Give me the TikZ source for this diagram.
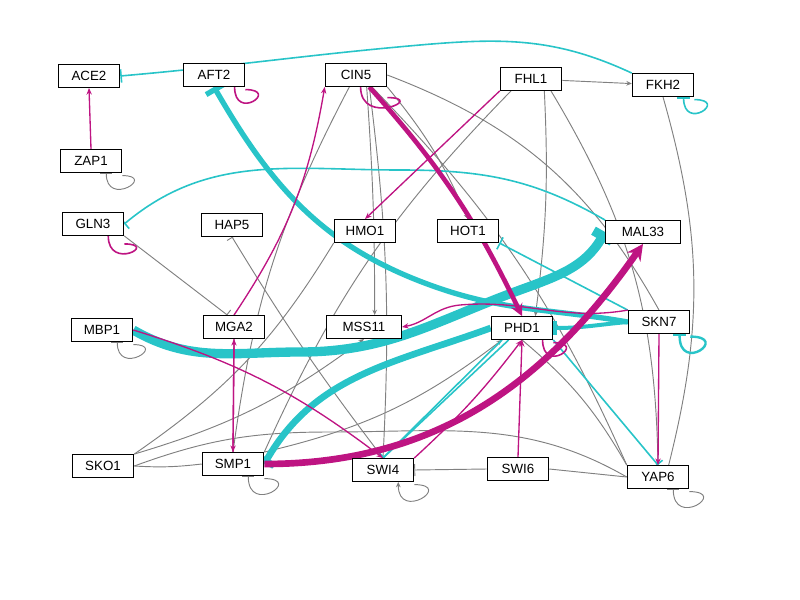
\documentclass[tikz,border=0pt]{standalone}
\usepackage{fontspec}
\setmainfont{Liberation Sans}
\usetikzlibrary{arrows.meta}
\definecolor{mag}{RGB}{190,20,130}
\definecolor{tl}{RGB}{40,196,200}
\definecolor{gy}{RGB}{128,128,128}
\begin{document}
\begin{tikzpicture}[x=0.75pt,y=-0.75pt,
 n/.style={draw,line width=0.9pt,fill=white,minimum width=46pt,minimum height=17pt,inner sep=1pt,font=\fontsize{10}{11}\selectfont},
 g/.style={draw=gy,line width=0.7pt},
 ga/.style={g,-{Stealth[length=4pt,width=3.5pt]}},
 gi/.style={g,-{Bar[width=9pt]}},
 m/.style={draw=mag,line width=1pt,-{Stealth[length=5pt,width=4pt]}},
 t/.style={draw=tl,line width=1.2pt,-{Bar[width=10pt]}},
 ml/.style={draw=mag,line width=1.2pt}]
\useasboundingbox (0,0) rectangle (800,600);
\node[n] (ACE2) at (89,76) {ACE2};
\node[n] (AFT2) at (214,75) {AFT2};
\node[n] (CIN5) at (356,75) {CIN5};
\node[n] (FHL1) at (531,79) {FHL1};
\node[n] (FKH2) at (663,85) {FKH2};
\node[n] (ZAP1) at (91,161) {ZAP1};
\node[n] (GLN3) at (93,224) {GLN3};
\node[n] (HAP5) at (232,225) {HAP5};
\node[n] (HMO1) at (365,231) {HMO1};
\node[n] (HOT1) at (468,231) {HOT1};
\node[n,minimum width=56pt] (MAL33) at (643,232) {MAL33};
\node[n] (MBP1) at (102,330) {MBP1};
\node[n] (MGA2) at (234,327) {MGA2};
\node[n,minimum width=56pt] (MSS11) at (364,327) {MSS11};
\node[n] (PHD1) at (522,328) {PHD1};
\node[n] (SKN7) at (659,322) {SKN7};
\node[n] (SKO1) at (103,466) {SKO1};
\node[n] (SMP1) at (233,464) {SMP1};
\node[n] (SWI4) at (383,470) {SWI4};
\node[n] (SWI6) at (518,469) {SWI6};
\node[n] (YAP6) at (658,477) {YAP6};
% grey edges
\draw[ga] (FHL1) -- (FKH2);
\draw[ga] (CIN5.south east) to[bend left=8] (HOT1.north);
\draw[ga] ([xshift=8]CIN5.south) to[bend left=2] ([xshift=8]MSS11.north);
\draw[g] ([xshift=-5]CIN5.south) to[bend right=10] (SMP1.north);
\draw[g] ([xshift=10]CIN5.south) to[bend left=5] (SWI4.north);
\draw[g] ([xshift=12]CIN5.south) to[bend left=10] (YAP6.north west);
\draw[g] (CIN5.east) to[bend left=20] (SKN7.north);
\draw[ga] ([xshift=10]FHL1.south) to[bend left=5] ([xshift=10]PHD1.north);
\draw[g] ([xshift=-15]FHL1.south) to[bend right=10] (SMP1.north east);
\draw[g] ([xshift=15]FHL1.south) to[bend left=15] (YAP6.north);
\draw[g] (FKH2.south) to[bend left=15] ([xshift=8]YAP6.north);
\draw[gi] (GLN3.south east) -- ([xshift=-5]MGA2.north);
\draw[gi] (SWI4.north) to[bend left=3] (HAP5.south);
\draw[ga] (SKO1.north east) to[bend left=-10] (MSS11.south);
\draw[g] (SKO1.north east) to[bend right=12] (HMO1.south west);
\draw[g] (SKO1.east) to[out=20,in=180] (330,432) to[out=0,in=150] (YAP6.west);
\draw[g] (SKO1.east) to[bend right=5] (SMP1.west);
\draw[ga] (SMP1.north east) to[bend right=12] ([xshift=-15]PHD1.south);
\draw[gi] (SWI6.west) -- (SWI4.east);
\draw[g] (SWI6.east) -- (YAP6.west);
\draw[g] (PHD1.south) to[bend left=10] (YAP6.north west);
% teal
\draw[t] (FKH2.north west) to[out=155,in=5] (420,45) to[out=185,in=5] (ACE2.east);
\draw[t] (MAL33.north west) to[out=150,in=0] (400,170) to[out=180,in=40] (GLN3.east);
\draw[t,line width=4pt,-{Bar[width=16pt]}] (SKN7.west) to[out=170,in=-20] (430,285) to[out=160,in=-60] (AFT2.south);
\draw[t] (SKN7.north west) -- (HOT1.south east);
\draw[t,line width=3pt,-{Bar[width=10pt]}] (SKN7.west) to[out=185,in=0] (PHD1.east);
\draw[t,line width=7pt,-{Bar[width=16pt]}] (MBP1.east) to[out=-30,in=180] (300,352) to[out=0,in=200] (520,290) to[out=20,in=-120] (MAL33.west);
\draw[t,line width=5pt,-{Bar[width=14pt]}] (PHD1.west) to[out=200,in=60] (SMP1.east);
\draw[t] (PHD1.south east) -- (YAP6.north);
\draw[t] ([xshift=-10]PHD1.south) -- (SWI4.north);
\draw[draw=tl,line width=1.2pt] ([xshift=0]SWI4.north) -- ([xshift=-15]PHD1.south);
\draw[t,line width=1.8pt] ([yshift=-2]SKN7.south east) .. controls +(40,0) and +(0,40) .. ([xshift=-8]SKN7.south east);
\draw[t] ([yshift=-2]FKH2.south east) .. controls +(35,0) and +(0,35) .. ([xshift=-8]FKH2.south east);
% magenta
\draw[m] (ZAP1.north) -- (ACE2.south);
\draw[ml] ([yshift=-2]AFT2.south east) .. controls +(35,0) and +(0,35) .. ([xshift=-8]AFT2.south east);
\draw[ml] ([xshift=-20]CIN5.south east) .. controls +(0,40) and +(40,0) .. ([yshift=-8]CIN5.south east);
\draw[ml] ([yshift=-6]GLN3.south east) .. controls +(35,0) and +(0,35) .. ([xshift=-12]GLN3.south east);
\draw[ml] ([yshift=-2]PHD1.south east) .. controls +(35,0) and +(0,35) .. ([xshift=-8]PHD1.south east);
\draw[m,line width=3.5pt,-{Stealth[length=9pt,width=9pt]}] ([xshift=10]CIN5.south) to[bend left=8] (PHD1.north);
\draw[m] (MGA2.north) to[bend left=-12] (CIN5.south west);
\draw[m] (FHL1.south west) -- (HMO1.north);
\draw[m] (SKN7.north west) to[out=190,in=5] (460,305) to[out=185,in=10] (MSS11.east);
\draw[m] (SKN7.south) -- (YAP6.north);
\draw[m] (MGA2.south) -- (SMP1.north);
\draw[m] (SMP1.north) -- (MGA2.south);
\draw[m] (MBP1.east) to[bend left=10] (SWI4.north);
\draw[m] (SWI4.north east) to[bend right=5] (PHD1.south);
\draw[m] (SWI6.north) -- (PHD1.south);
\draw[m,line width=5pt,-{Stealth[length=12pt,width=12pt]}] (SMP1.east) to[out=0,in=235] (MAL33.south);
% grey self loops
\draw[gi] ([yshift=-2]ZAP1.south east) .. controls +(35,0) and +(0,35) .. ([xshift=-12]ZAP1.south east);
\draw[gi] ([yshift=-2]MBP1.south east) .. controls +(35,0) and +(0,35) .. ([xshift=-12]MBP1.south east);
\draw[gi] ([yshift=-2]SMP1.south east) .. controls +(40,0) and +(0,40) .. ([xshift=-12]SMP1.south east);
\draw[ga] ([yshift=-2]SWI4.south east) .. controls +(40,0) and +(0,40) .. ([xshift=-12]SWI4.south east);
\draw[gi] ([yshift=-2]YAP6.south east) .. controls +(40,0) and +(0,40) .. ([xshift=-12]YAP6.south east);
% nodes on top
\foreach \nm in {ACE2,AFT2,CIN5,FHL1,FKH2,ZAP1,GLN3,HAP5,HMO1,HOT1,MBP1,MGA2,PHD1,SKN7,SKO1,SMP1,SWI4,SWI6,YAP6}{\node[n] at (\nm) {\nm};}
\node[n,minimum width=56pt] at (MAL33) {MAL33};
\node[n,minimum width=56pt] at (MSS11) {MSS11};
\end{tikzpicture}
\end{document}
